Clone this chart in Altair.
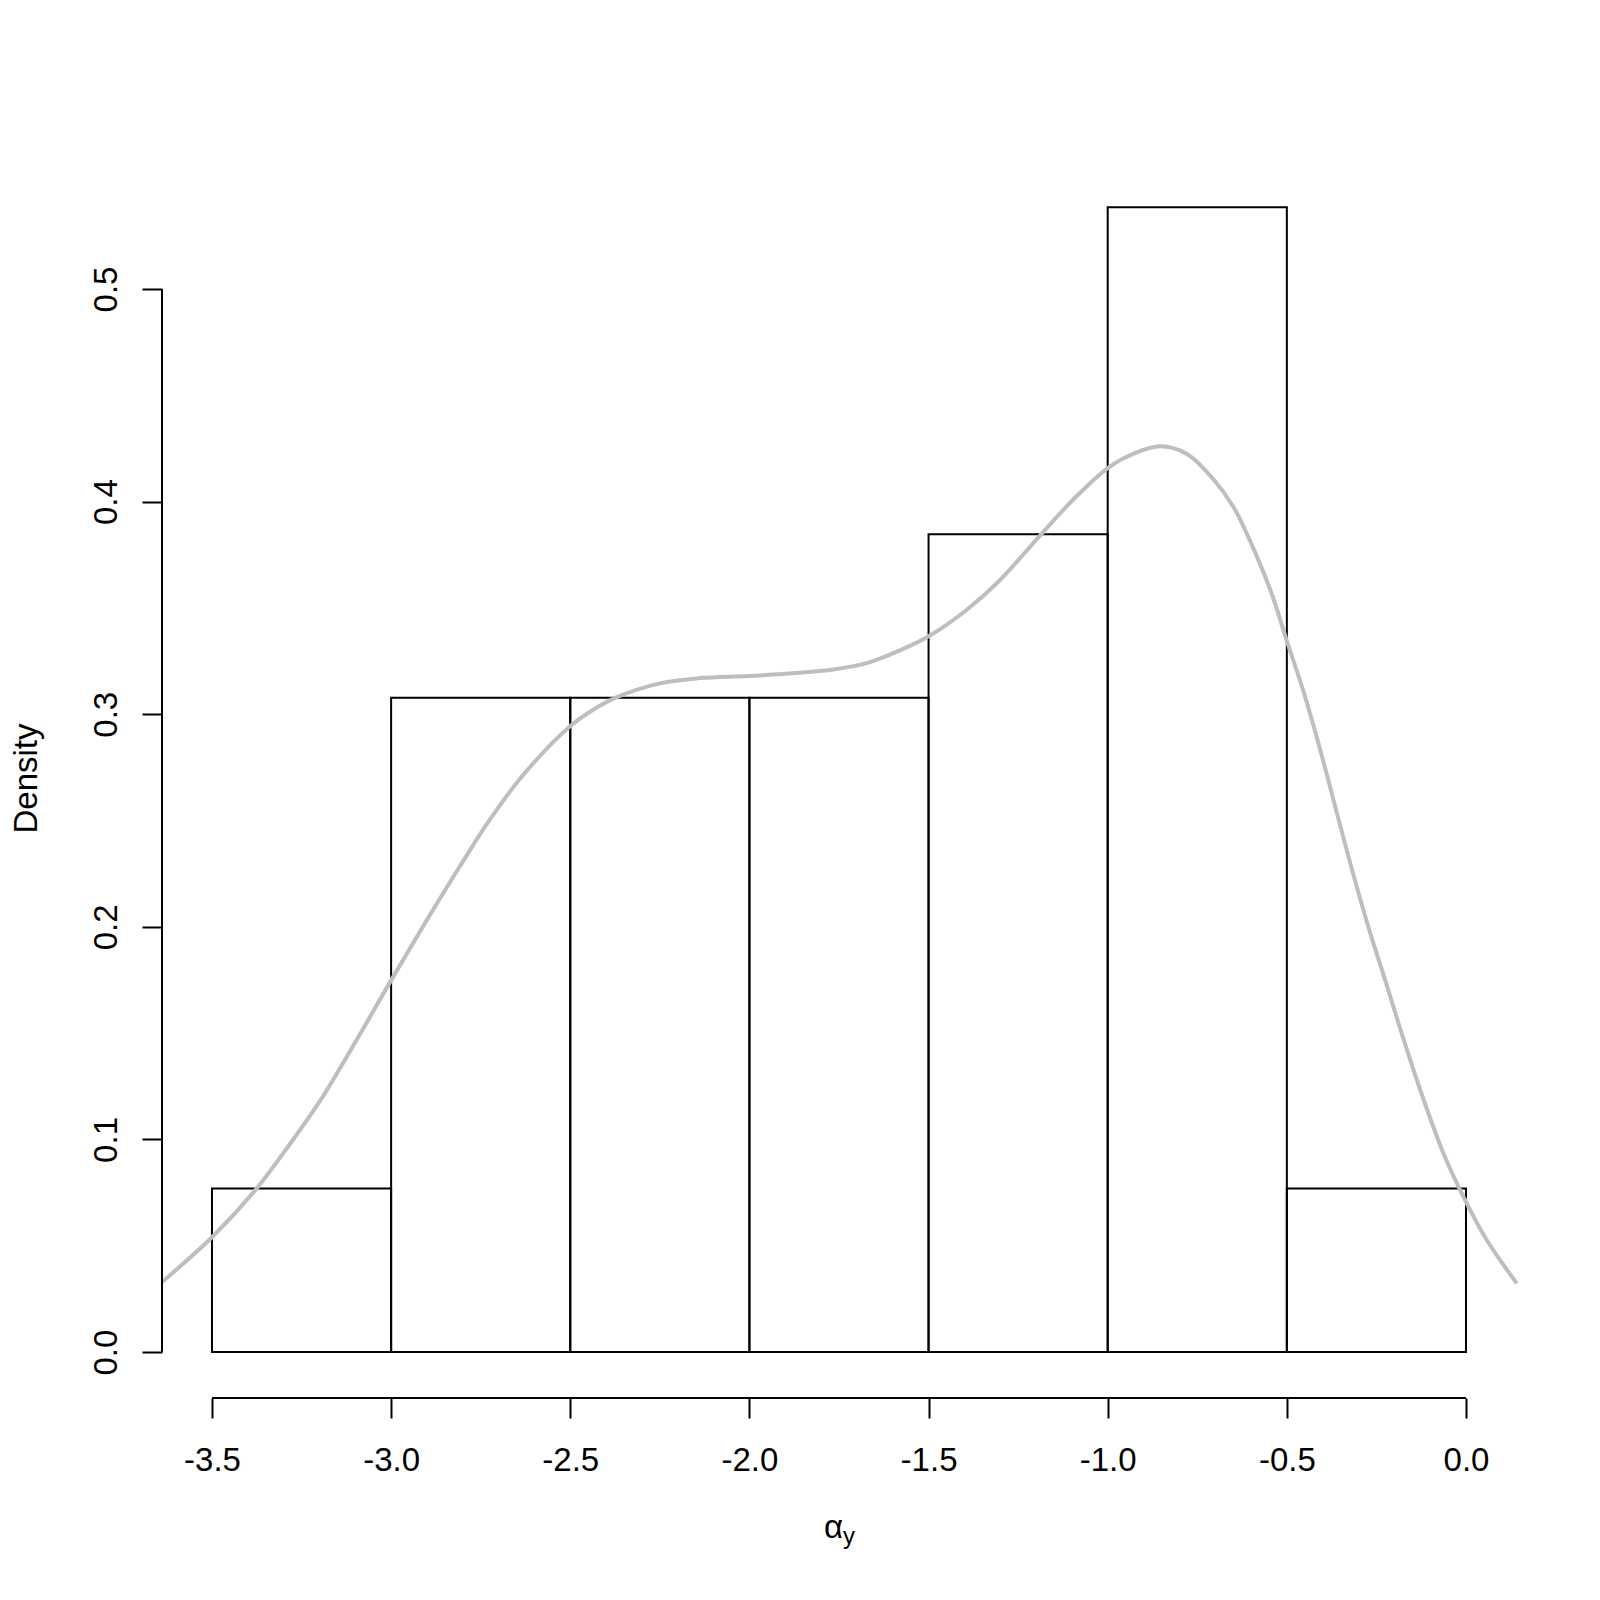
import altair as alt
import pandas as pd

# Histogram (density scale), breaks every 0.5
bin_start = [-3.5, -3.0, -2.5, -2.0, -1.5, -1.0, -0.5]
bin_end = [-3.0, -2.5, -2.0, -1.5, -1.0, -0.5, 0.0]
bin_density = [1/13, 4/13, 4/13, 4/13, 5/13, 7/13, 1/13]

# Kernel density curve
dens_x = [-3.639, -3.5, -3.375, -3.282, -3.199, -3.087, -3.003, -2.892, -2.808, -2.724,
          -2.631, -2.503, -2.437, -2.370, -2.250, -2.138, -2.0, -1.859, -1.766, -1.673,
          -1.580, -1.496, -1.394, -1.301, -1.189, -1.096, -0.998, -0.928, -0.854, -0.780,
          -0.705, -0.649, -0.608, -0.543, -0.501, -0.454, -0.408, -0.361, -0.315, -0.268,
          -0.221, -0.175, -0.124, -0.063, -0.007, 0.058, 0.142]
dens_y = [0.033, 0.054, 0.077, 0.098, 0.118, 0.1495, 0.174, 0.2055, 0.2285, 0.2505,
          0.2715, 0.294, 0.302, 0.308, 0.3145, 0.317, 0.318, 0.3195, 0.321, 0.324,
          0.330, 0.337, 0.349, 0.363, 0.384, 0.401, 0.416, 0.4225, 0.426, 0.4225,
          0.4105, 0.3975, 0.3835, 0.357, 0.335, 0.311, 0.284, 0.254, 0.225, 0.1975,
          0.1725, 0.1475, 0.1215, 0.0935, 0.073, 0.0527, 0.0323]

x_ticks = [-3.5, -3.0, -2.5, -2.0, -1.5, -1.0, -0.5, 0.0]
y_ticks = [0.0, 0.1, 0.2, 0.3, 0.4, 0.5]

x_domain = [-3.6395, 0.1424]
y_domain = [-0.0216, 0.5616]

W, H = 1355, 1240
FONT = "Liberation Sans"
FS = 33

hist_df = pd.DataFrame({"start": bin_start, "end": bin_end, "density": bin_density})
dens_df = pd.DataFrame({"x": dens_x, "y": dens_y})
xaxis_df = pd.DataFrame({"a": [x_ticks[0]], "b": [x_ticks[-1]]})
yaxis_df = pd.DataFrame({"a": [y_ticks[0]], "b": [y_ticks[-1]]})

xscale = alt.Scale(domain=x_domain, nice=False, zero=False)
yscale = alt.Scale(domain=y_domain, nice=False, zero=False)

x_axis = alt.Axis(
    values=x_ticks, domain=False, grid=False, tickSize=20, tickWidth=2, tickColor="black",
    labelExpr="replace(format(datum.value, '.1f'), '\u2212', '-')",
    labelFont=FONT, labelFontSize=FS, labelColor="black", labelPadding=52,
    labelBaseline="alphabetic", labelAlign="center", labelFlush=False, labelOverlap=False,
    title="\u03b1", titleFont=FONT, titleFontSize=FS, titleFontWeight="normal",
    titleColor="black", titleX=671, titleY=139, titleAlign="center",
    titleBaseline="alphabetic", titleAnchor="start",
)
y_axis = alt.Axis(
    values=y_ticks, domain=False, grid=False, tickSize=20, tickWidth=2, tickColor="black",
    format=".1f", labelFont=FONT, labelFontSize=FS, labelColor="black", labelPadding=26,
    labelAngle=270, labelAlign="center", labelBaseline="alphabetic", labelFlush=False,
    labelOverlap=False,
    title="Density", titleFont=FONT, titleFontSize=FS, titleFontWeight="normal",
    titleColor="black", titleAngle=270, titleX=-126, titleY=620, titleAlign="center",
    titleBaseline="alphabetic", titleAnchor="start",
)

bars = alt.Chart(hist_df).mark_rect(fill=None, stroke="black", strokeWidth=2).encode(
    x=alt.X("start:Q", scale=xscale, axis=x_axis),
    x2="end:Q",
    y=alt.Y("density:Q", scale=yscale, axis=y_axis),
    y2=alt.datum(0),
)

curve = alt.Chart(dens_df).mark_line(color="#BEBEBE", strokeWidth=4, interpolate="catmull-rom").encode(
    x=alt.X("x:Q", scale=xscale),
    y=alt.Y("y:Q", scale=yscale),
)

xline = alt.Chart(xaxis_df).mark_rule(color="black", strokeWidth=2).encode(
    x=alt.X("a:Q", scale=xscale), x2="b:Q", y=alt.value(H)
)
yline = alt.Chart(yaxis_df).mark_rule(color="black", strokeWidth=2).encode(
    y=alt.Y("a:Q", scale=yscale), y2="b:Q", x=alt.value(0)
)

subscript = alt.Chart(pd.DataFrame({"t": ["y"]})).mark_text(
    font=FONT, fontSize=24, color="black", align="left", baseline="alphabetic"
).encode(text="t:N", x=alt.value(681), y=alt.value(1386))

chart = alt.layer(bars, curve, xline, yline, subscript).properties(
    width=W, height=H,
    background="white",
    autosize=alt.AutoSizeParams(type="none"),
    padding={"left": 154, "top": 150, "right": 40, "bottom": 170},
).configure_view(strokeWidth=0)

chart.save("out.html", embed_options={"renderer": "svg", "actions": False})
